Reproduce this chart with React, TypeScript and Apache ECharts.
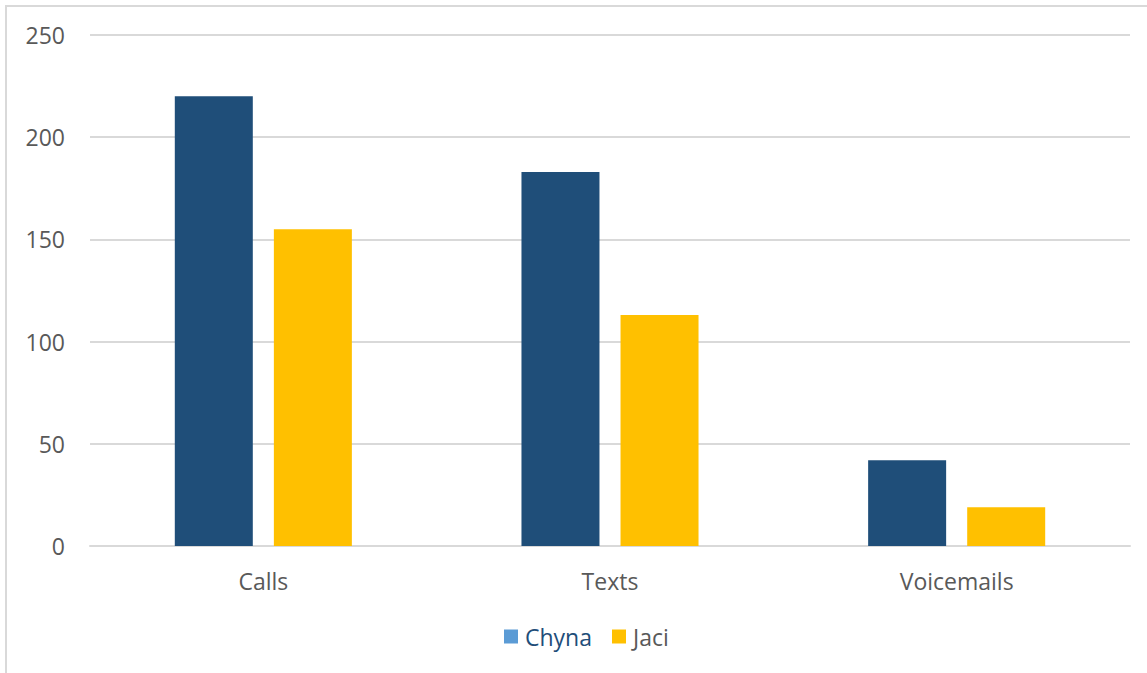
import React, { useEffect, useRef } from "react";
import * as echarts from "echarts";

const categories = ["Calls", "Texts", "Voicemails"];
const chynaValues = [220, 183, 42];
const jaciValues = [155, 113, 19];
const yTicks = { min: 0, max: 250, interval: 50 };

const FONT = "'Open Sans', 'Noto Sans', sans-serif";
const GRID_GRAY = "#D9D9D9";
const LABEL_GRAY = "#595959";

export default function App() {
  const ref = useRef<HTMLDivElement>(null);

  useEffect(() => {
    if (!ref.current) return;
    const chart = echarts.init(ref.current, undefined, { renderer: "svg" });
    chart.setOption({
      animation: false,
      backgroundColor: "#FFFFFF",
      graphic: [
        {
          // chart-area frame
          type: "rect",
          shape: { x: 6, y: 6, width: 1200, height: 720 },
          style: { fill: "none", stroke: GRID_GRAY, lineWidth: 2 },
          silent: true,
          z: 0,
        },
      ],
      grid: { left: 90, right: 17, top: 35, bottom: 127, containLabel: false },
      legend: {
        left: 499,
        top: 620,
        itemWidth: 14,
        itemHeight: 14,
        itemGap: 20,
        icon: "rect",
        textStyle: { fontFamily: FONT, fontSize: 23, color: LABEL_GRAY, padding: [0, 0, 0, 2] },
        data: [
          { name: "Chyna", itemStyle: { color: "#5B9BD5" }, textStyle: { color: "#1F4E79" } },
          { name: "Jaci", itemStyle: { color: "#FFC000" }, textStyle: { color: LABEL_GRAY } },
        ],
      },
      xAxis: {
        type: "category",
        data: categories,
        axisLine: { show: true, lineStyle: { color: GRID_GRAY, width: 2 } },
        axisTick: { show: false },
        axisLabel: { color: LABEL_GRAY, fontFamily: FONT, fontSize: 23, margin: 23 },
      },
      yAxis: {
        type: "value",
        min: yTicks.min,
        max: yTicks.max,
        interval: yTicks.interval,
        axisLine: { show: false },
        axisTick: { show: false },
        axisLabel: { color: LABEL_GRAY, fontFamily: FONT, fontSize: 23, margin: 25 },
        splitLine: { lineStyle: { color: GRID_GRAY, width: 2 } },
      },
      series: [
        {
          name: "Chyna",
          type: "bar",
          data: chynaValues,
          barWidth: 78,
          barGap: "27%",
          itemStyle: { color: "#1F4E79" },
        },
        {
          name: "Jaci",
          type: "bar",
          data: jaciValues,
          barWidth: 78,
          itemStyle: { color: "#FFC000" },
        },
      ],
    });
    return () => chart.dispose();
  }, []);

  return (
    <div
      ref={ref}
      style={{ position: "fixed", left: 0, top: 0, width: 1147, height: 673, background: "#fff" }}
    />
  );
}
